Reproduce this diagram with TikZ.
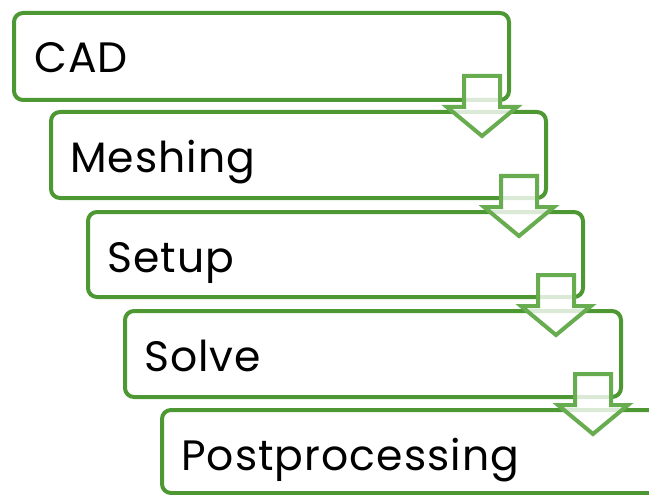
\documentclass[tikz,border=0pt]{standalone}
\usepackage{fontspec}
\setmainfont[LetterSpace=2.5]{Poppins}
\definecolor{boxgreen}{RGB}{78,152,52}
\definecolor{arrowgreen}{RGB}{104,172,80}
\tikzset{
  x=1pt, y=-1pt,
  stagebox/.style={draw=boxgreen, line width=4pt, rounded corners=9pt, fill=white},
  stagelabel/.style={anchor=base west, inner sep=0pt, font=\fontsize{42.5}{42.5}\selectfont, text=black},
  downarrow/.style={draw=arrowgreen, line width=4pt, fill=white, fill opacity=0.8, line join=miter}
}
\newcommand{\stagearrow}[2]{% #1 = shaft left x, #2 = shaft top y
  \draw[downarrow] (#1,#2) -- ++(36,0) -- ++(0,31) -- ++(17,0) -- ++(-35,29) -- ++(-35,-29) -- ++(17,0) -- cycle;
}
\begin{document}
\begin{tikzpicture}
\useasboundingbox (0,0) rectangle (649,495);
\clip (0,0) rectangle (649,495);
% five stacked stages, each shifted right and down
\draw[stagebox] (14,13) rectangle (509,100);
\node[stagelabel] (cad) at (34,73) {CAD};
\draw[stagebox] (51,112) rectangle (546,198);
\node[stagelabel] (mesh) at (70,172) {Meshing};
\draw[stagebox] (88,212) rectangle (583,297);
\node[stagelabel] (setup) at (107,272) {Setup};
\draw[stagebox] (125,311) rectangle (621,397);
\node[stagelabel] (solve) at (144,371) {Solve};
\draw[stagebox] (162,410) rectangle (700,493);
\node[stagelabel] (post) at (181,470) {Postprocessing};
% connecting arrows between stages
\stagearrow{464}{76}
\stagearrow{501}{176}
\stagearrow{538}{275}
\stagearrow{575}{374}
\end{tikzpicture}
\end{document}
